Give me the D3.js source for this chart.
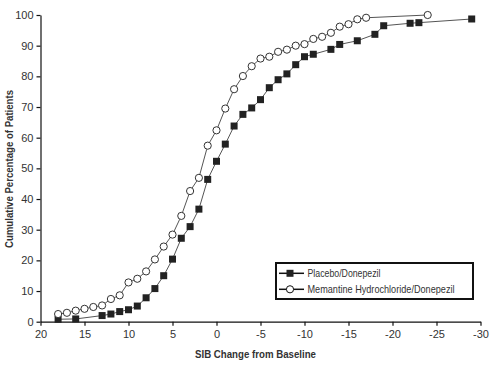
<!DOCTYPE html>
<html><head><meta charset="utf-8">
<script src="https://cdn.jsdelivr.net/npm/d3@7"></script>
<style>body{margin:0;background:#fff}</style>
</head><body>
<svg id="c" width="491" height="365"></svg>
<script>
const xTicks = [20,15,10,5,0,-5,-10,-15,-20,-25,-30];
const yTicks = [0,10,20,30,40,50,60,70,80,90,100];
const placeboX = [18,16,13,12,11,10,9,8,7,6,5,4,3,2,1,0,-1,-2,-3,-4,-5,-6,-7,-8,-9,-10,-11,-13,-14,-16,-18,-19,-22,-23,-29];
const placeboY = [0.8,0.9,2.0,2.5,3.3,3.9,5.1,7.8,10.8,15.0,20.4,27.2,31.0,36.7,46.4,52.3,57.9,63.8,67.6,69.7,72.4,76.3,78.9,80.8,83.8,86.4,87.2,88.8,90.4,91.6,93.7,96.5,97.3,97.5,98.7];
const memX = [18,17,16,15,14,13,12,11,10,9,8,7,6,5,4,3,2,1,0,-1,-2,-3,-4,-5,-6,-7,-8,-9,-10,-11,-12,-13,-14,-15,-16,-17,-24];
const memY = [2.5,2.9,3.6,4.2,4.8,5.3,7.4,8.6,12.8,14.0,16.4,20.3,24.5,28.4,34.5,42.6,46.9,57.4,62.4,69.5,75.8,80.1,83.3,85.8,86.4,88.0,88.7,90.0,90.5,92.2,92.9,94.2,96.2,97.0,98.6,99.1,100];
const seriesNames = ["Placebo/Donepezil","Memantine Hydrochloride/Donepezil"];

const svg = d3.select("#c");
const x = d3.scaleLinear().domain([20,-30]).range([40.5,480.5]);
const y = d3.scaleLinear().domain([0,100]).range([321.7,15]);
const txt = "#333";
const font = "Liberation Sans, Arial, sans-serif";

const ya = svg.append("g").attr("transform","translate(40.5,0)")
  .call(d3.axisLeft(y).tickValues(yTicks).tickFormat(d=>String(d)).tickSize(4).tickPadding(3).tickSizeOuter(0));
const xa = svg.append("g").attr("transform","translate(0,321.7)")
  .call(d3.axisBottom(x).tickValues(xTicks).tickFormat(d=>String(d)).tickSize(4).tickPadding(5).tickSizeOuter(0));
[ya,xa].forEach(a=>{
  a.selectAll("path,line").attr("stroke","#111").attr("stroke-width",1.2);
  a.selectAll("text").attr("fill",txt).attr("font-family",font).attr("font-size",11);
});

const line = d3.line().x(d=>x(d[0])).y(d=>y(d[1]));
const pData = placeboX.map((v,i)=>[v,placeboY[i]]);
const mData = memX.map((v,i)=>[v,memY[i]]);

svg.append("path").datum(pData).attr("d",line).attr("fill","none").attr("stroke","#555").attr("stroke-width",1);
svg.append("path").datum(mData).attr("d",line).attr("fill","none").attr("stroke","#555").attr("stroke-width",1);

svg.append("g").selectAll("rect").data(pData).join("rect")
  .attr("x",d=>x(d[0])-3.5).attr("y",d=>y(d[1])-3.5).attr("width",7).attr("height",7).attr("fill","#222");
svg.append("g").selectAll("circle").data(mData).join("circle")
  .attr("cx",d=>x(d[0])).attr("cy",d=>y(d[1])).attr("r",3.6).attr("fill","#fff").attr("stroke","#333").attr("stroke-width",1);

// axis titles
svg.append("text").attr("x",255.5).attr("y",358).attr("text-anchor","middle")
  .attr("font-family",font).attr("font-weight","bold").attr("font-size",11.5).attr("fill",txt)
  .attr("textLength",121).attr("lengthAdjust","spacingAndGlyphs").text("SIB Change from Baseline");
svg.append("text").attr("transform","translate(13,169) rotate(-90)").attr("text-anchor","middle")
  .attr("font-family",font).attr("font-weight","bold").attr("font-size",11.5).attr("fill",txt)
  .attr("textLength",158).attr("lengthAdjust","spacingAndGlyphs").text("Cumulative Percentage of Patients");

// legend
const lg = svg.append("g");
lg.append("rect").attr("x",276).attr("y",263).attr("width",197).attr("height",36)
  .attr("fill","#fff").attr("stroke","#111").attr("stroke-width",2);
const rows = [273.3,289.3];
const lens = [73,147];
seriesNames.forEach((n,i)=>{
  const yy = rows[i];
  lg.append("line").attr("x1",279).attr("x2",304).attr("y1",yy).attr("y2",yy).attr("stroke","#111").attr("stroke-width",1.5);
  if(i===0) lg.append("rect").attr("x",286.5).attr("y",yy-3.5).attr("width",7).attr("height",7).attr("fill","#222");
  else lg.append("circle").attr("cx",290).attr("cy",yy).attr("r",3.6).attr("fill","#fff").attr("stroke","#111");
  lg.append("text").attr("x",307.5).attr("y",yy+3.8).attr("font-family",font).attr("font-size",10.5).attr("fill",txt)
    .attr("textLength",lens[i]).attr("lengthAdjust","spacingAndGlyphs").text(n);
});
</script>
</body></html>
